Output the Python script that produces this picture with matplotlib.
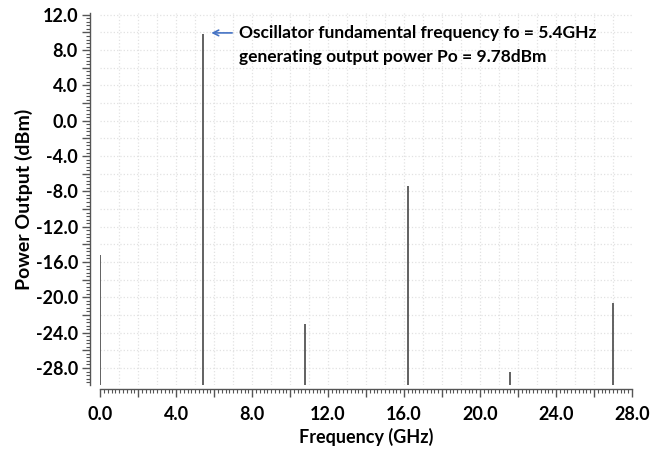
import matplotlib.pyplot as plt
from matplotlib.ticker import MultipleLocator, FuncFormatter

# spectrum lines
freq_ghz = [0.0, 5.4, 10.8, 16.2, 21.6, 27.0]
power_dbm = [-15.2, 9.78, -23.0, -7.4, -28.5, -20.6]

y_min, y_max = -29.9, 12.2
x_min, x_max = 0.0, 28.0

plt.rcParams['font.family'] = ['Lato', 'DejaVu Sans']

fig = plt.figure(figsize=(6.59, 4.5), dpi=100)
ax = fig.add_axes([0.152, 0.145, 0.807, 0.826])

ax.vlines(freq_ghz, y_min, power_dbm, color='#555555', linewidth=1.3, zorder=3)

ax.set_xlim(x_min, x_max)
ax.set_ylim(y_min, y_max)

# grid: 1 GHz by 2 dB
ax.xaxis.set_major_locator(MultipleLocator(2))
ax.xaxis.set_minor_locator(MultipleLocator(0.2))
ax.yaxis.set_major_locator(MultipleLocator(2))
ax.yaxis.set_minor_locator(MultipleLocator(0.4))
fmt = FuncFormatter(lambda v, p: f"{v:.1f}" if abs(round(v) % 4) < 1e-6 else "")
ax.xaxis.set_major_formatter(fmt)
ax.yaxis.set_major_formatter(fmt)

for g in range(1, 28):
    ax.axvline(g, color='#e2e2e2', linestyle=':', linewidth=0.9, zorder=0)
for g in range(-28, 13, 2):
    ax.axhline(g, color='#e2e2e2', linestyle=':', linewidth=0.9, zorder=0)

for s in ['top', 'right']:
    ax.spines[s].set_visible(False)
ax.spines['left'].set_position(('outward', 7))
ax.spines['bottom'].set_position(('outward', 3))
for s in ['left', 'bottom']:
    ax.spines[s].set_color('#555555')
    ax.spines[s].set_linewidth(1.0)

ax.tick_params(which='major', length=6, width=1.0, color='#555555')
ax.tick_params(which='minor', length=3, width=0.8, color='#555555')
ax.tick_params(labelsize=13)
for lbl in ax.get_xticklabels() + ax.get_yticklabels():
    lbl.set_fontweight('bold')
ax.tick_params(axis='x', pad=6)
ax.tick_params(axis='y', pad=3)

ax.set_xlabel('Frequency (GHz)', fontsize=13, fontweight='bold', labelpad=4)
ax.set_ylabel('Power Output (dBm)', fontsize=14, fontweight='bold', labelpad=2)

ax.annotate('', xy=(5.85, 9.95), xytext=(6.95, 9.95),
            arrowprops=dict(arrowstyle='->', color='#4472c4', lw=1.2,
                            shrinkA=0, shrinkB=0))
ax.text(7.3, 9.95, 'Oscillator fundamental frequency fo = 5.4GHz',
        fontsize=12.5, fontweight='bold', va='center', ha='left')
ax.text(7.3, 7.25, 'generating output power Po = 9.78dBm',
        fontsize=12.5, fontweight='bold', va='center', ha='left')

fig.savefig('out.png', dpi=100)
